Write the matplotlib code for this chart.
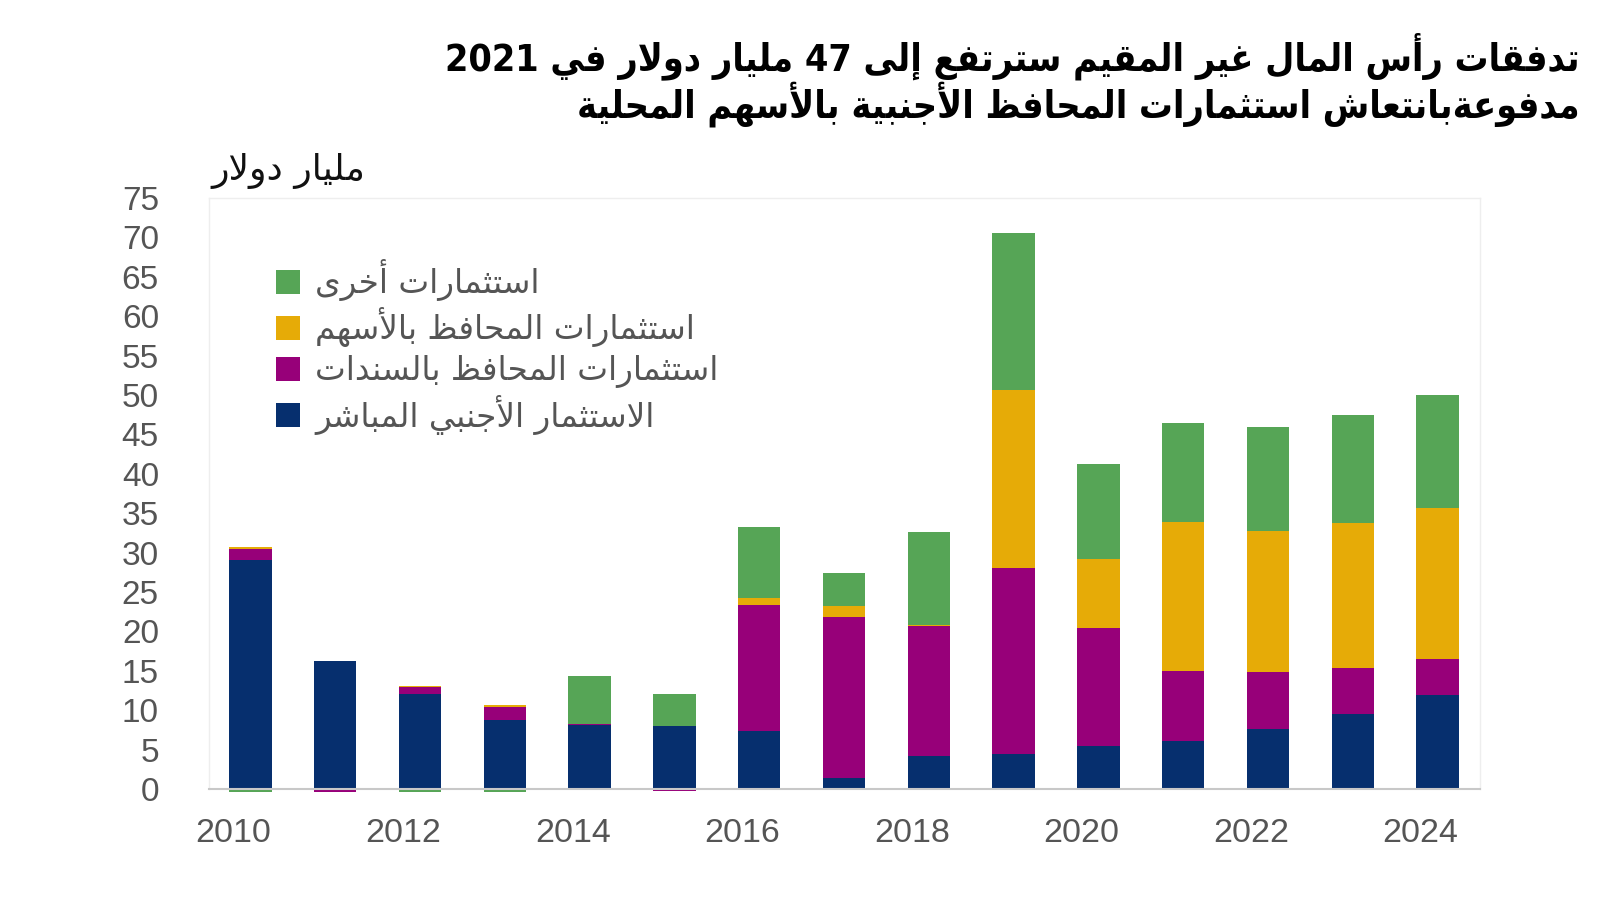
import re
import numpy as np
import matplotlib
matplotlib.use("Agg")
import matplotlib.pyplot as plt
import matplotlib.transforms as mtransforms

# ---------------- data ----------------
years = [2010, 2011, 2012, 2013, 2014, 2015, 2016, 2017, 2018, 2019, 2020, 2021, 2022, 2023, 2024]
fdi    = [29.1, 16.2, 12.1, 8.8, 8.1, 8.0, 7.4, 1.4, 4.2, 4.5, 5.4, 6.1, 7.6, 9.5, 11.9]
bonds  = [1.4, -0.4, 0.9, 1.6, 0.2, -0.3, 16.0, 20.4, 16.5, 23.5, 15.0, 8.9, 7.2, 5.8, 4.6]
equity = [0.2, 0.0, 0.1, 0.2, 0.0, 0.0, 0.8, 1.4, 0.1, 22.6, 8.8, 18.9, 18.0, 18.5, 19.1]
other  = [-0.4, 0.0, -0.4, -0.4, 6.0, 4.0, 9.1, 4.2, 11.8, 19.9, 12.0, 12.5, 13.1, 13.7, 14.4]

series_labels = ["الاستثمار الأجنبي المباشر",
                 "استثمارات المحافظ بالسندات",
                 "استثمارات المحافظ بالأسهم",
                 "استثمارات أخرى"]
title_line1 = "تدفقات رأس المال غير المقيم سترتفع إلى 47 مليار دولار في 2021"
title_line2 = "مدفوعةبانتعاش استثمارات المحافظ الأجنبية بالأسهم المحلية"
y_unit = "مليار دولار"
xtick_years = [2010, 2012, 2014, 2016, 2018, 2020, 2022, 2024]
yticks = list(range(0, 80, 5))

colors = ["#062f6e", "#970079", "#e6ab07", "#56a556"]

# ---------------- minimal Arabic shaping ----------------
TABLE = {0x0621: (0xFE80, 1), 0x0622: (0xFE81, 2), 0x0623: (0xFE83, 2), 0x0624: (0xFE85, 2),
         0x0625: (0xFE87, 2), 0x0626: (0xFE89, 4), 0x0627: (0xFE8D, 2), 0x0628: (0xFE8F, 4),
         0x0629: (0xFE93, 2), 0x062A: (0xFE95, 4), 0x062B: (0xFE99, 4), 0x062C: (0xFE9D, 4),
         0x062D: (0xFEA1, 4), 0x062E: (0xFEA5, 4), 0x062F: (0xFEA9, 2), 0x0630: (0xFEAB, 2),
         0x0631: (0xFEAD, 2), 0x0632: (0xFEAF, 2), 0x0633: (0xFEB1, 4), 0x0634: (0xFEB5, 4),
         0x0635: (0xFEB9, 4), 0x0636: (0xFEBD, 4), 0x0637: (0xFEC1, 4), 0x0638: (0xFEC5, 4),
         0x0639: (0xFEC9, 4), 0x063A: (0xFECD, 4), 0x0641: (0xFED1, 4), 0x0642: (0xFED5, 4),
         0x0643: (0xFED9, 4), 0x0644: (0xFEDD, 4), 0x0645: (0xFEE1, 4), 0x0646: (0xFEE5, 4),
         0x0647: (0xFEE9, 4), 0x0648: (0xFEED, 2), 0x0649: (0xFEEF, 2), 0x064A: (0xFEF1, 4)}
LAMALEF = {0x0622: 0xFEF5, 0x0623: 0xFEF7, 0x0625: 0xFEF9, 0x0627: 0xFEFB}


def shape(s):
    out = []
    i = 0
    prev_joins = False
    while i < len(s):
        c = ord(s[i])
        if c in TABLE:
            base, n = TABLE[c]
            if c == 0x0644 and i + 1 < len(s) and ord(s[i + 1]) in LAMALEF:
                lig = LAMALEF[ord(s[i + 1])]
                out.append(chr(lig + 1 if prev_joins else lig))
                prev_joins = False
                i += 2
                continue
            nxt = ord(s[i + 1]) if i + 1 < len(s) else None
            next_ok = nxt in TABLE and TABLE[nxt][1] > 1
            can_left = n == 4
            jn = can_left and next_ok
            jp = prev_joins and n > 1
            if n == 1:
                f = base
            elif jp and jn:
                f = base + 3
            elif jp:
                f = base + 1
            elif jn:
                f = base + 2
            else:
                f = base
            out.append(chr(f))
            prev_joins = can_left
        else:
            out.append(s[i])
            prev_joins = False
        i += 1
    return "".join(out)


def ar(s):
    r = shape(s)[::-1]
    return re.sub(r"[0-9]+", lambda m: m.group(0)[::-1], r)


# ---------------- plot ----------------
fig = plt.figure(figsize=(16, 9), dpi=100)
ax = fig.add_axes([0.1306, 0.1233, 0.7944, 0.6567])

x = np.arange(len(years))
pos = np.zeros(len(years))
neg = np.zeros(len(years))
handles = []
for vals, col, lab in zip([fdi, bonds, equity, other], colors, series_labels):
    v = np.array(vals, dtype=float)
    bottom = np.where(v >= 0, pos, neg)
    b = ax.bar(x, v, width=0.5, bottom=bottom, color=col, edgecolor="none",
               label=ar(lab), clip_on=False, zorder=3)
    handles.append(b)
    pos = pos + np.where(v > 0, v, 0)
    neg = neg + np.where(v < 0, v, 0)

ax.set_xlim(-0.49, 14.5)
ax.set_ylim(0, 75)
ax.set_yticks(yticks)
ax.set_yticklabels([str(t) for t in yticks], fontsize=24, color="#555555",
                   family=["Liberation Sans", "DejaVu Sans"])
ax.set_xticks([years.index(y) for y in xtick_years])
ax.set_xticklabels([str(y) for y in xtick_years], fontsize=24.5, color="#555555",
                   family=["Liberation Sans", "DejaVu Sans"])
ax.tick_params(axis="y", length=0, pad=36)
ax.tick_params(axis="x", length=0, pad=21)
offset = mtransforms.ScaledTranslation(-17 / 100, 0, fig.dpi_scale_trans)
for lbl in ax.get_xticklabels():
    lbl.set_transform(lbl.get_transform() + offset)

for sp in ["top", "right", "left"]:
    ax.spines[sp].set_color("#eeeeee")
    ax.spines[sp].set_linewidth(1)
ax.spines["bottom"].set_color("#c8c8c8")
ax.spines["bottom"].set_linewidth(1.5)
ax.spines["bottom"].set_zorder(4)

leg = ax.legend(handles=handles[::-1], loc="upper left", bbox_to_anchor=(0.0424, 0.919),
                frameon=False, handlelength=0.75, handleheight=0.75, handletextpad=0.45,
                labelspacing=0.2, borderaxespad=0,
                prop={"family": "DejaVu Sans", "size": 23.5})
for t in leg.get_texts():
    t.set_color("#555555")

fig.text(0.9875, 0.938, ar(title_line1), ha="right", va="center", fontsize=27,
         fontweight="bold", fontstretch="condensed", family="DejaVu Sans", color="#000000")
fig.text(0.9875, 0.884, ar(title_line2), ha="right", va="center", fontsize=27,
         fontweight="bold", fontstretch="condensed", family="DejaVu Sans", color="#000000")
fig.text(0.132, 0.81, ar(y_unit), ha="left", va="center", fontsize=26,
         family="DejaVu Sans", color="#111111")

fig.savefig("out.png", dpi=100, facecolor="white")
